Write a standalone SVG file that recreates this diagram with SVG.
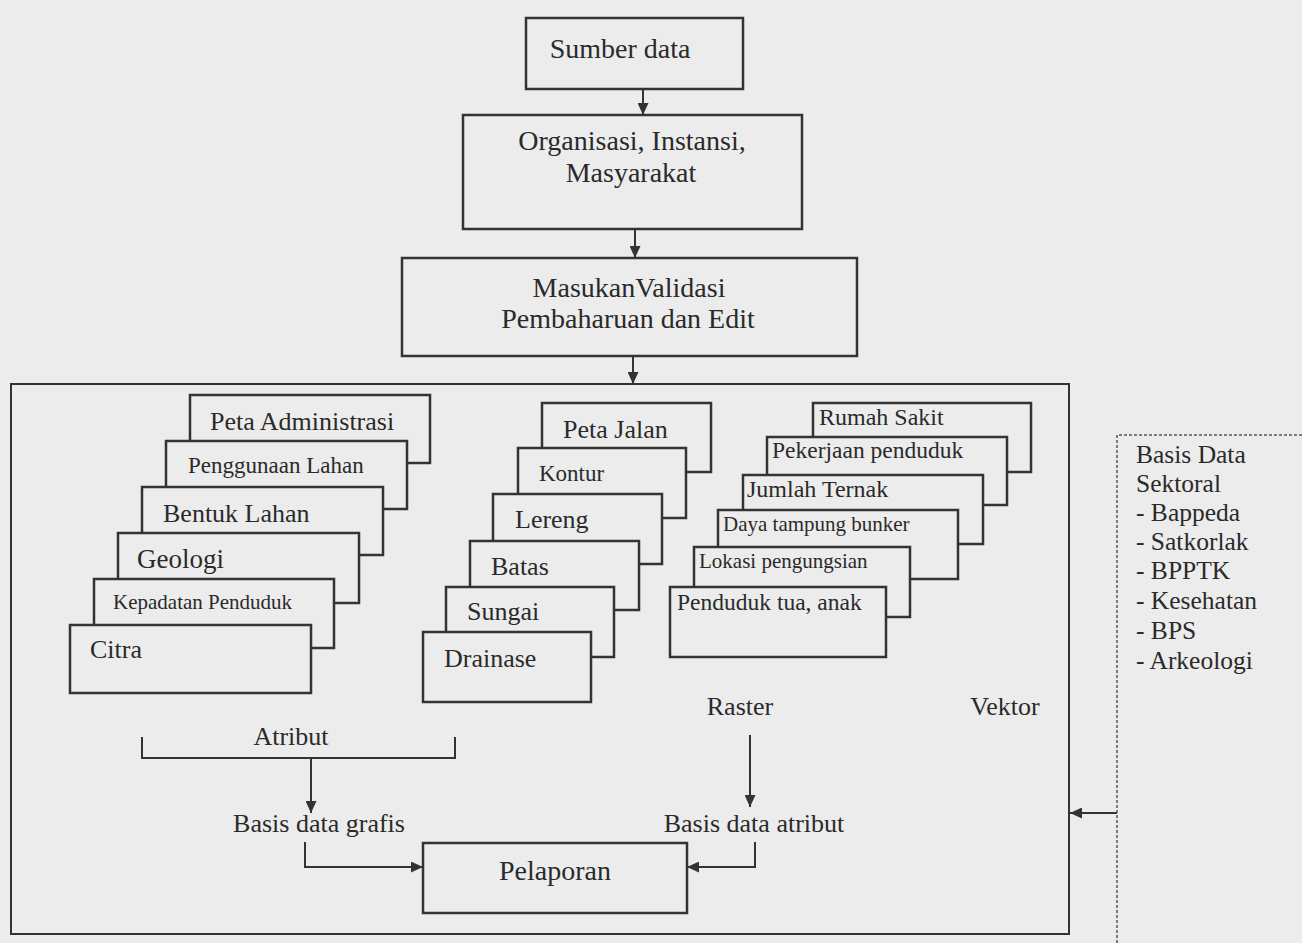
<svg xmlns="http://www.w3.org/2000/svg" width="1302" height="943" viewBox="0 0 1302 943">
<style>
.bx{fill:#ececec;stroke:#333;stroke-width:2.5}
.t{font-family:"Liberation Serif","Times New Roman",serif;fill:#2a2a2a}
.c{text-anchor:middle}
.ln{fill:none;stroke:#333;stroke-width:2}
.dot{fill:none;stroke:#555;stroke-width:1.5;stroke-dasharray:3 2}
</style>
<defs>
<marker id="ah" markerUnits="userSpaceOnUse" markerWidth="13" markerHeight="11" refX="12" refY="5.5" orient="auto">
<path d="M0,0 L12,5.5 L0,11 z" fill="#333"/>
</marker>
</defs>
<rect width="1302" height="943" fill="#ececec"/>

<g id="sumber"><rect class="bx" x="526" y="18" width="217" height="71"/><text class="t c" x="620" y="58" font-size="28">Sumber data</text></g>
<g id="organisasi"><rect class="bx" x="463" y="115" width="339" height="114"/><text class="t c" x="632" y="150" font-size="28">Organisasi, Instansi,</text><text class="t c" x="631" y="182" font-size="28">Masyarakat</text></g>
<g id="masukan"><rect class="bx" x="402" y="258" width="455" height="98"/><text class="t c" x="629" y="297" font-size="28">MasukanValidasi</text><text class="t c" x="628" y="328" font-size="28">Pembaharuan dan Edit</text></g>

<g id="container"><rect x="11" y="384" width="1058" height="550" fill="none" stroke="#333" stroke-width="2"/></g>

<g id="stack-left">
<g id="peta-admin"><rect class="bx" x="190" y="395" width="240" height="68"/><text class="t" x="210" y="430" font-size="26">Peta Administrasi</text></g>
<g id="penggunaan"><rect class="bx" x="166" y="441" width="241" height="68"/><text class="t" x="188" y="473" font-size="23">Penggunaan Lahan</text></g>
<g id="bentuk"><rect class="bx" x="142" y="487" width="241" height="68"/><text class="t" x="163" y="522" font-size="26">Bentuk Lahan</text></g>
<g id="geologi"><rect class="bx" x="118" y="533" width="241" height="70"/><text class="t" x="137" y="568" font-size="27">Geologi</text></g>
<g id="kepadatan"><rect class="bx" x="94" y="579" width="240" height="69"/><text class="t" x="113" y="609" font-size="21">Kepadatan Penduduk</text></g>
<g id="citra"><rect class="bx" x="70" y="625" width="241" height="68"/><text class="t" x="90" y="658" font-size="26">Citra</text></g>
</g>

<g id="stack-mid">
<g id="peta-jalan"><rect class="bx" x="542" y="403" width="169" height="69"/><text class="t" x="563" y="438" font-size="26">Peta Jalan</text></g>
<g id="kontur"><rect class="bx" x="518" y="448" width="168" height="70"/><text class="t" x="539" y="481" font-size="23">Kontur</text></g>
<g id="lereng"><rect class="bx" x="493" y="494" width="169" height="70"/><text class="t" x="515" y="528" font-size="26">Lereng</text></g>
<g id="batas"><rect class="bx" x="470" y="541" width="169" height="69"/><text class="t" x="491" y="575" font-size="26">Batas</text></g>
<g id="sungai"><rect class="bx" x="446" y="587" width="168" height="70"/><text class="t" x="467" y="620" font-size="26">Sungai</text></g>
<g id="drainase"><rect class="bx" x="423" y="632" width="168" height="70"/><text class="t" x="444" y="667" font-size="26">Drainase</text></g>
</g>

<g id="stack-right">
<g id="rumah-sakit"><rect class="bx" x="813" y="403" width="218" height="69"/><text class="t" x="819" y="425" font-size="24">Rumah Sakit</text></g>
<g id="pekerjaan"><rect class="bx" x="767" y="437" width="240" height="68"/><text class="t" x="772" y="458" font-size="23.5">Pekerjaan penduduk</text></g>
<g id="ternak"><rect class="bx" x="743" y="475" width="240" height="69"/><text class="t" x="747" y="497" font-size="24">Jumlah Ternak</text></g>
<g id="bunker"><rect class="bx" x="718" y="510" width="240" height="69"/><text class="t" x="723" y="531" font-size="21">Daya tampung bunker</text></g>
<g id="lokasi"><rect class="bx" x="694" y="547" width="216" height="70"/><text class="t" x="699" y="568" font-size="21">Lokasi pengungsian</text></g>
<g id="penduduk-tua"><rect class="bx" x="670" y="587" width="216" height="70"/><text class="t" x="677" y="610" font-size="23.5">Penduduk tua, anak</text></g>
</g>

<g id="labels">
<text class="t c" x="291" y="745" font-size="26">Atribut</text>
<text class="t c" x="740" y="715" font-size="26">Raster</text>
<text class="t c" x="1005" y="715" font-size="26">Vektor</text>
<text class="t c" x="319" y="832" font-size="26">Basis data grafis</text>
<text class="t c" x="754" y="832" font-size="26">Basis data atribut</text>
</g>

<g id="pelaporan"><rect class="bx" x="423" y="843" width="264" height="70"/><text class="t c" x="555" y="880" font-size="28">Pelaporan</text></g>

<g id="sektoral">
<path class="dot" d="M1117,943 V435 H1302"/>
<text class="t" font-size="25.5">
<tspan x="1136" y="463">Basis Data</tspan>
<tspan x="1136" y="492">Sektoral</tspan>
<tspan x="1136" y="521">- Bappeda</tspan>
<tspan x="1136" y="550">- Satkorlak</tspan>
<tspan x="1136" y="579">- BPPTK</tspan>
<tspan x="1136" y="609">- Kesehatan</tspan>
<tspan x="1136" y="639">- BPS</tspan>
<tspan x="1136" y="669">- Arkeologi</tspan>
</text>
</g>

<g id="connectors">
<line class="ln" x1="643" y1="89" x2="643" y2="115" marker-end="url(#ah)"/>
<line class="ln" x1="635" y1="229" x2="635" y2="258" marker-end="url(#ah)"/>
<line class="ln" x1="633" y1="356" x2="633" y2="384" marker-end="url(#ah)"/>
<path class="ln" d="M142,737 V758 H455 V737"/>
<line class="ln" x1="311" y1="758" x2="311" y2="813" marker-end="url(#ah)"/>
<line class="ln" x1="750" y1="735" x2="750" y2="807" marker-end="url(#ah)"/>
<path class="ln" d="M305,842 V867 H423" marker-end="url(#ah)"/>
<path class="ln" d="M755,842 V867 H687" marker-end="url(#ah)"/>
<line class="ln" x1="1117" y1="813" x2="1070" y2="813" marker-end="url(#ah)"/>
</g>
</svg>
